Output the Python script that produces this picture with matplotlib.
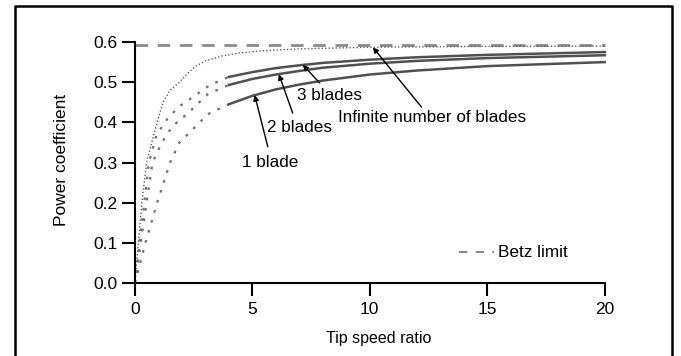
import matplotlib
matplotlib.use("Agg")
import matplotlib.pyplot as plt
from matplotlib.lines import Line2D

plt.rcParams["font.family"] = ["Liberation Sans", "DejaVu Sans"]

# Betz limit
betz = 16 / 27

# infinite number of blades (dotted)
inf_tsr = [0, 0.15, 0.3, 0.5, 0.72, 1.0, 1.2, 1.5, 1.9, 2.3, 2.6, 3.0, 3.7, 4.5, 5.4, 7, 10, 15, 20]
inf_cp = [0, 0.1, 0.2, 0.3, 0.35, 0.41, 0.45, 0.48, 0.50, 0.525, 0.54, 0.553, 0.565, 0.573, 0.578, 0.583, 0.587, 0.589, 0.59]

# finite blades: low tsr part (dashed) and high tsr part (solid)
b3_low_tsr = [0, 0.2, 0.4, 0.6, 0.93, 1.4, 1.9, 2.4, 3.2, 4.0]
b3_low_cp = [0, 0.1, 0.2, 0.3, 0.37, 0.41, 0.44, 0.46, 0.493, 0.513]
b3_tsr = [4, 5, 6, 7, 8, 10, 12, 15, 20]
b3_cp = [0.513, 0.525, 0.535, 0.542, 0.548, 0.556, 0.562, 0.568, 0.575]

b2_low_tsr = [0, 0.25, 0.5, 0.75, 1.15, 1.6, 2.3, 3.1, 4.0]
b2_low_cp = [0, 0.1, 0.2, 0.3, 0.35, 0.39, 0.425, 0.47, 0.493]
b2_tsr = [4, 5, 6, 7, 8, 10, 12, 15, 20]
b2_cp = [0.493, 0.508, 0.519, 0.528, 0.536, 0.546, 0.553, 0.56, 0.567]

b1_low_tsr = [0, 0.45, 0.95, 1.5, 1.9, 2.25, 3.1, 4.0]
b1_low_cp = [0, 0.1, 0.2, 0.3, 0.35, 0.37, 0.42, 0.445]
b1_tsr = [4, 5, 6, 7, 8, 10, 12, 15, 20]
b1_cp = [0.445, 0.466, 0.482, 0.494, 0.504, 0.519, 0.529, 0.54, 0.55]

fig = plt.figure(figsize=(6.81, 3.56), dpi=100)
ax = fig.add_axes([0.198, 0.205, 0.690, 0.677])

gray = "#505050"
ax.plot([0, 20], [betz, betz], color="#8a8a8a", lw=2, linestyle=(0, (4.5, 3.5)), clip_on=False)
ax.plot(inf_tsr, inf_cp, color="#606060", lw=1, linestyle=(0, (1, 1.5)), clip_on=False)

for lt, lc, st, sc in [(b3_low_tsr, b3_low_cp, b3_tsr, b3_cp),
                       (b2_low_tsr, b2_low_cp, b2_tsr, b2_cp),
                       (b1_low_tsr, b1_low_cp, b1_tsr, b1_cp)]:
    ax.plot(lt, lc, color="#707070", lw=1.6, linestyle=(0, (1.2, 3.5)), clip_on=False)
    ax.plot(st, sc, color=gray, lw=1.8, clip_on=False)

arrow = dict(arrowstyle="-|>", color="black", lw=1, mutation_scale=8, shrinkA=0, shrinkB=0)
ax.annotate("", xy=(7.15, 0.543), xytext=(7.87, 0.498), arrowprops=arrow)
ax.annotate("", xy=(6.13, 0.520), xytext=(6.72, 0.423), arrowprops=arrow)
ax.annotate("", xy=(5.1, 0.468), xytext=(5.66, 0.339), arrowprops=arrow)
ax.annotate("", xy=(10.13, 0.587), xytext=(12.2, 0.438), arrowprops=arrow)

fs = 12.3
ax.text(6.9, 0.468, "3 blades", fontsize=fs, va="center", ha="left")
ax.text(5.62, 0.388, "2 blades", fontsize=fs, va="center", ha="left")
ax.text(4.55, 0.301, "1 blade", fontsize=fs, va="center", ha="left")
ax.text(8.64, 0.411, "Infinite number of blades", fontsize=fs, va="center", ha="left")

# Betz limit key
ax.add_line(Line2D([13.8, 15.3], [0.077, 0.077], color="#8a8a8a", lw=1.5,
                   linestyle=(0, (4, 4))))
ax.text(15.45, 0.077, "Betz limit", fontsize=fs, va="center", ha="left")

ax.set_xlim(0, 20)
ax.set_ylim(0, 0.6)
ax.set_xticks([0, 5, 10, 15, 20])
ax.set_yticks([0.0, 0.1, 0.2, 0.3, 0.4, 0.5, 0.6])
ax.set_yticklabels(["0.0", "0.1", "0.2", "0.3", "0.4", "0.5", "0.6"])
ax.tick_params(axis="x", direction="out", length=9, width=1.5, labelsize=12.5, pad=5)
ax.tick_params(axis="y", direction="out", length=9.5, width=1.5, labelsize=12.5, pad=3)
for s in ["top", "right"]:
    ax.spines[s].set_visible(False)
for s in ["left", "bottom"]:
    ax.spines[s].set_linewidth(1.5)

ax.set_xlabel("Tip speed ratio", fontsize=11.5)
ax.set_ylabel("Power coefficient", fontsize=12.5)
ax.xaxis.set_label_coords(0.52, -0.2)
ax.yaxis.set_label_coords(-0.14, 0.51)

# outer frame (left, top, right)
frame = dict(color="black", lw=1.8, transform=fig.transFigure, clip_on=False)
fig.add_artist(Line2D([15 / 681, 15 / 681, 672 / 681, 672 / 681],
                      [0, 1 - 6 / 356, 1 - 6 / 356, 0], **frame))

fig.savefig("out.png", dpi=100)
